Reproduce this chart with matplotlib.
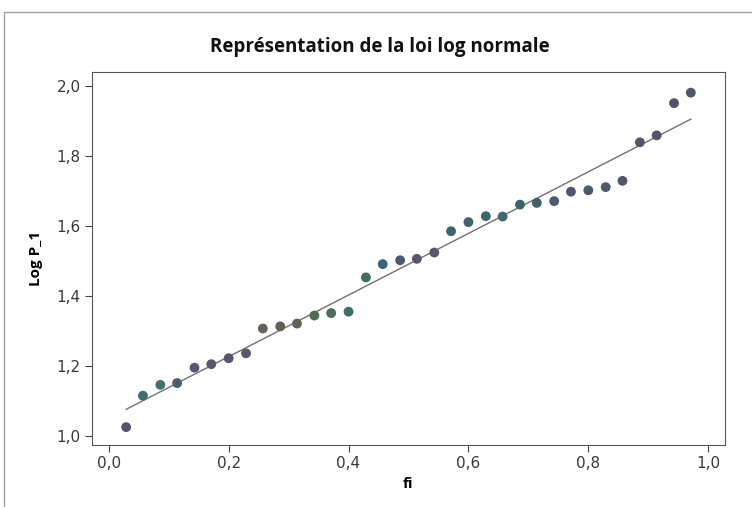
import matplotlib.pyplot as plt
from matplotlib.lines import Line2D
import numpy as np

# fi = rang / (n + 1), n = 34
fi = [0.029, 0.057, 0.086, 0.114, 0.143, 0.171, 0.200, 0.229, 0.257, 0.286,
      0.314, 0.343, 0.371, 0.400, 0.429, 0.457, 0.486, 0.514, 0.543, 0.571,
      0.600, 0.629, 0.657, 0.686, 0.714, 0.743, 0.771, 0.800, 0.829, 0.857,
      0.886, 0.914, 0.943, 0.971]
log_p1 = [1.025, 1.115, 1.146, 1.151, 1.195, 1.205, 1.222, 1.236, 1.307, 1.313,
          1.321, 1.344, 1.351, 1.355, 1.453, 1.491, 1.502, 1.506, 1.524, 1.585,
          1.611, 1.628, 1.627, 1.661, 1.666, 1.671, 1.698, 1.702, 1.711, 1.729,
          1.839, 1.859, 1.951, 1.981]

# couleurs des points (scan)
pc = ['#56536c', '#3f6e6e', '#437070', '#4c5f6c', '#5a5570', '#5a5670', '#585570',
      '#5a5670', '#6a5f5a', '#655f52', '#5f6550', '#4f6a55', '#4c6d58', '#3f6d68',
      '#3f7058', '#3d6577', '#4c5a70', '#5a5672', '#5a5670', '#3a6868', '#3d6470',
      '#3d6868', '#3f6a6a', '#3d6468', '#40606c', '#4a5a6c', '#4c586c', '#4c586c',
      '#50586c', '#52566c', '#54546a', '#52546a', '#50546a', '#52566c']

x = np.array(fi)
y = np.array(log_p1)
a, b = np.polyfit(x, y, 1)

fig = plt.figure(figsize=(7.52, 5.07), dpi=100)
# cadre du scan (haut et gauche)
fig.lines.append(Line2D([4 / 752, 4 / 752, 1.0], [0.0, 1 - 12 / 507, 1 - 12 / 507],
                        transform=fig.transFigure, color='#a0a0a0', linewidth=1.0))
ax = fig.add_axes([92 / 752, 62 / 507, 633 / 752, 373 / 507])

xl = np.array([x.min(), x.max()])
ax.plot(xl, a * xl + b, color='#707070', linewidth=1.0, zorder=2)
ax.scatter(x, y, s=50, c=pc, edgecolors='none', zorder=3)

ax.set_xlim(-0.028, 1.028)
ax.set_ylim(0.974, 2.04)
ax.set_xticks([0.0, 0.2, 0.4, 0.6, 0.8, 1.0])
ax.set_xticklabels(['0,0', '0,2', '0,4', '0,6', '0,8', '1,0'])
ax.set_yticks([1.0, 1.2, 1.4, 1.6, 1.8, 2.0])
ax.set_yticklabels(['1,0', '1,2', '1,4', '1,6', '1,8', '2,0'])
ax.tick_params(direction='out', length=5, width=0.8, color='#444444',
               labelsize=11, labelcolor='#3a3a3a', pad=3)
for s in ax.spines.values():
    s.set_color('#555555')
    s.set_linewidth(0.8)

fig.text(380 / 752, 1 - 47 / 507, 'Représentation de la loi log normale', fontsize=13.5,
         fontweight='bold', family='Open Sans', ha='center', va='center', color='#111111')
ax.set_xlabel('fi', fontsize=11, fontweight='bold', family='Open Sans')
ax.set_ylabel('Log P_1', fontsize=11, fontweight='bold', family='Open Sans', labelpad=10)

fig.savefig('out.png', dpi=100)
